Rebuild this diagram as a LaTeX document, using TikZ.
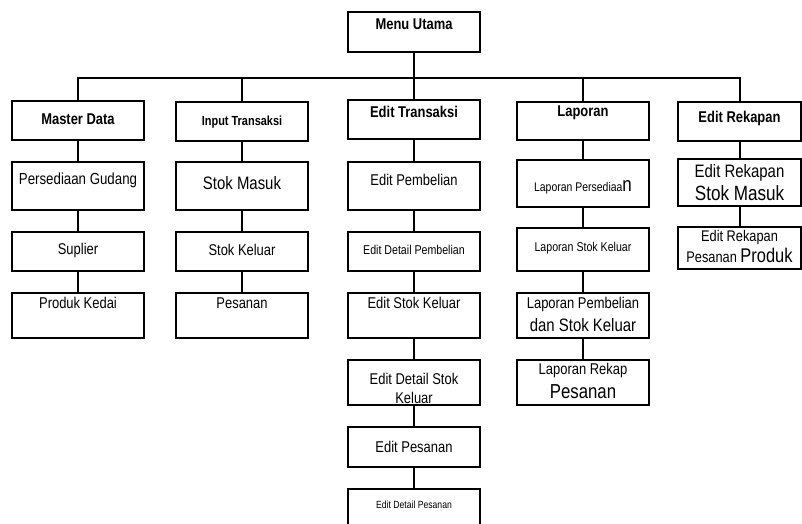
\documentclass[tikz,border=0pt]{standalone}
\usepackage{fontspec}
\setmainfont{Liberation Sans}[FakeStretch=0.83]
\begin{document}
\begin{tikzpicture}[x=1pt, y=-1pt, line width=2pt]
    \tikzstyle{box} = [rectangle, draw, minimum width=132pt, inner sep=0pt]
    \tikzstyle{txt} = [inner sep=0pt, align=center]
    \tikzstyle{head} = [txt, font=\bfseries\fontsize{15.6}{17}\selectfont]
    \tikzstyle{norm} = [txt, font=\fontsize{15.6}{17}\selectfont]
    \tikzstyle{smalltext} = [txt, font=\fontsize{12.8}{14}\selectfont]
    \useasboundingbox (0,0) rectangle (802,523);

    % menu utama
    \node (mu) [box, minimum height=40pt] at (414,32) {};
    \node (muT) [head] at (414,24) {Menu Utama};
    \coordinate (bus) at (414,78);

    % header tiap kolom
    \node (md) [box, minimum height=39pt] at (78,120.5) {};
    \node (it) [box, minimum height=39pt] at (242,121.5) {};
    \node (et) [box, minimum height=39pt] at (414,119.5) {};
    \node (lp) [box, minimum height=38pt] at (583,121) {};
    \node (er) [box, minimum height=39pt, minimum width=123pt] at (739.5,121.5) {};
    \node (mdT) [head] at (78,119) {Master Data};
    \node (itT) [head, font=\bfseries\fontsize{13.2}{15}\selectfont] at (242,122) {Input Transaksi};
    \node (etT) [head] at (414,112) {Edit Transaksi};
    \node (lpT) [head] at (583,113) {Laporan};
    \node (erT) [head] at (739.5,118) {Edit Rekapan};

    % master data
    \node (pg) [box, minimum height=48pt] at (78,186) {};
    \node (sp) [box, minimum height=39pt] at (78,251.5) {};
    \node (pk) [box, minimum height=45pt] at (78,315.5) {};
    \node (pgT) [norm, font=\fontsize{16}{18}\selectfont] at (78,180) {Persediaan Gudang};
    \node (spT) [norm] at (78,250) {Suplier};
    \node (pkT) [norm] at (78,303) {Produk Kedai};

    % input transaksi
    \node (sm) [box, minimum height=48pt] at (242,186) {};
    \node (sk) [box, minimum height=39pt] at (242,251.5) {};
    \node (ps) [box, minimum height=45pt] at (242,315.5) {};
    \node (smT) [norm, font=\fontsize{18}{20}\selectfont] at (242,183) {Stok Masuk};
    \node (skT) [norm] at (242,250) {Stok Keluar};
    \node (psT) [norm] at (242,303) {Pesanan};

    % edit transaksi
    \node (ep) [box, minimum height=48pt] at (414,186) {};
    \node (edp) [box, minimum height=39pt] at (414,251.5) {};
    \node (esk) [box, minimum height=45pt] at (414,315.5) {};
    \node (edsk) [box, minimum height=45pt] at (414,382.5) {};
    \node (eps) [box, minimum height=40pt] at (414,447) {};
    \node (edps) [box, minimum height=46pt] at (414,512) {};
    \node (epT) [norm] at (414,180) {Edit Pembelian};
    \node (edpT) [smalltext] at (414,250) {Edit Detail Pembelian};
    \node (eskT) [norm] at (414,303) {Edit Stok Keluar};
    \node (edskT) [norm, font=\fontsize{15.6}{19}\selectfont] at (414,388) {Edit Detail Stok\\Keluar};
    \node (epsT) [norm] at (414,447) {Edit Pesanan};
    \node (edpsT) [txt, font=\fontsize{10.4}{12}\selectfont] at (414,505) {Edit Detail Pesanan};

    % laporan
    \node (lps) [box, minimum height=47pt] at (583,183) {};
    \node (lsk) [box, minimum height=43pt] at (583,249.5) {};
    \node (lpsk) [box, minimum height=45pt] at (583,315.5) {};
    \node (lrp) [box, minimum height=45pt] at (583,382.5) {};
    \node (lpsT) [smalltext, font=\fontsize{12.6}{14}\selectfont] at (583,187) {Laporan Persediaa{\fontsize{20.4}{20}\selectfont n}};
    \node (lskT) [smalltext] at (583,248) {Laporan Stok Keluar};
    \node (lpskT) [norm, font=\fontsize{15.6}{23}\selectfont] at (583,314) {Laporan Pembelian\\{\fontsize{18}{20}\selectfont dan Stok Keluar}};
    \node (lrpT) [norm, font=\fontsize{15.6}{24}\selectfont] at (583,381) {Laporan Rekap\\{\fontsize{20.2}{22}\selectfont Pesanan}};

    % edit rekapan
    \node (ersm) [box, minimum height=47pt, minimum width=123pt] at (739.5,182.5) {};
    \node (erpp) [box, minimum height=42pt, minimum width=123pt] at (739.5,248) {};
    \node (ersmT) [norm, font=\fontsize{18}{23}\selectfont] at (739.5,183) {Edit Rekapan\\{\fontsize{20.6}{22}\selectfont Stok Masuk}};
    \node (erppT) [norm, font=\fontsize{15.4}{21}\selectfont] at (739.5,247) {Edit Rekapan\\Pesanan {\fontsize{19.8}{21}\selectfont Produk}};

    \draw (mu.south) -- (bus);
    \draw (md.north) |- (bus) -| (er.north);
    \draw (it.north) -- (it.north |- bus);
    \draw (bus) -- (et.north);
    \draw (lp.north) -- (lp.north |- bus);

    \draw (md) -- (pg) -- (sp) -- (pk);
    \draw (it) -- (sm) -- (sk) -- (ps);
    \draw (et) -- (ep) -- (edp) -- (esk) -- (edsk) -- (eps) -- (edps);
    \draw (lp) -- (lps) -- (lsk) -- (lpsk) -- (lrp);
    \draw (er) -- (ersm) -- (erpp);

\end{tikzpicture}
\end{document}
